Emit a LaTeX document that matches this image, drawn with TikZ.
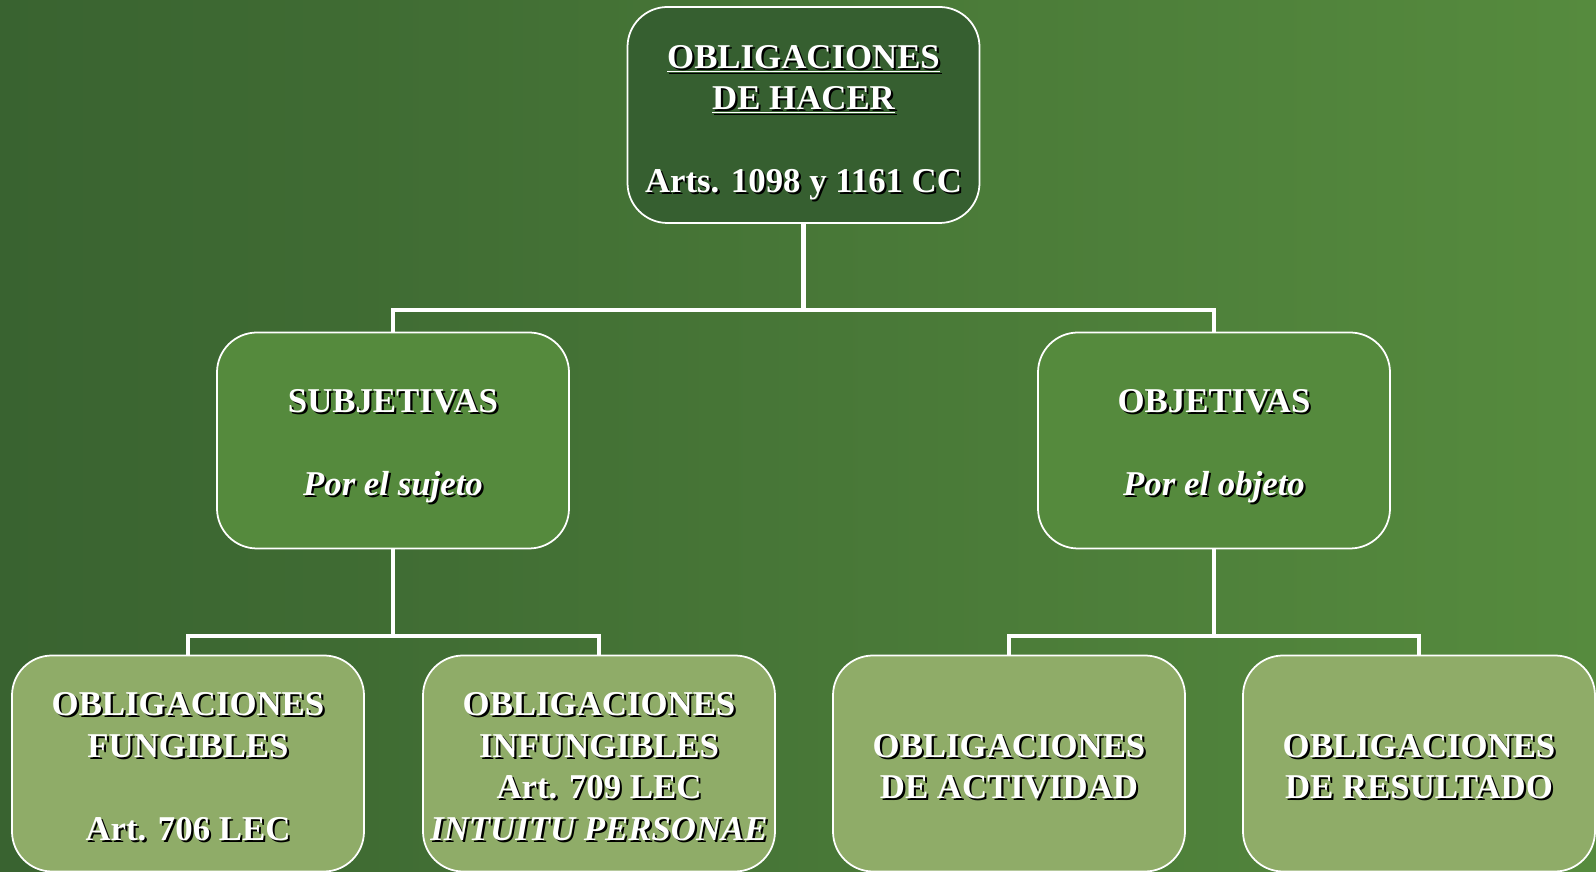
\documentclass[tikz,border=0pt]{standalone}
\usepackage{fontspec}
\setmainfont{Liberation Serif}
\usetikzlibrary{positioning}

\definecolor{bgleft}{HTML}{396330}
\definecolor{bgright}{HTML}{568B3E}
\definecolor{topfill}{HTML}{365F30}
\definecolor{midfill}{HTML}{558A3D}
\definecolor{leaffill}{HTML}{8FAC68}

% white text with a small black shadow
\newcommand{\shd}[1]{\leavevmode\rlap{\kern1.2pt\raisebox{-1.2pt}{\color{black}#1}}{#1}}
% taller first line, pushes the text block down a little
\newcommand{\lift}[1]{\rule{0pt}{#1}}

\tikzset{
  box/.style={rectangle,rounded corners=0.8cm,draw=white,line width=1pt,
    minimum width=7.04cm,minimum height=4.32cm,align=center,text=white,
    font=\fontsize{19.8}{23.6}\selectfont\bfseries},
  topbox/.style={box,fill=topfill},
  midbox/.style={box,fill=midfill},
  leafbox/.style={box,fill=leaffill},
  conn/.style={draw=white,line width=2.8pt}
}

\begin{document}
\begin{tikzpicture}
\useasboundingbox (0,0) rectangle (31.92,17.44);
\shade[left color=bgleft,right color=bgright] (0,0) rectangle (31.92,17.44);

\node[topbox] (hacer) at (16.07,15.14) {\lift{23pt}\shd{\underline{OBLIGACIONES}}\\\shd{\underline{DE HACER}}\\[23.6pt]\shd{Arts. 1098 y 1161 CC}};

\node[midbox] (subj) at (7.86,8.63) {\lift{21pt}\shd{SUBJETIVAS}\\[23.6pt]\shd{\itshape Por el sujeto}};
\node[midbox] (obj) at (24.28,8.63) {\lift{21pt}\shd{OBJETIVAS}\\[23.6pt]\shd{\itshape Por el objeto}};

\node[leafbox] (fung) at (3.76,2.17) {\lift{18pt}\shd{OBLIGACIONES}\\\shd{FUNGIBLES}\\[23.6pt]\shd{Art. 706 LEC}};
\node[leafbox] (infung) at (11.98,2.17) {\lift{18pt}\shd{OBLIGACIONES}\\\shd{INFUNGIBLES}\\\shd{Art. 709 LEC}\\\shd{\itshape INTUITU PERSONAE}};
\node[leafbox] (activ) at (20.18,2.17) {\lift{18pt}\shd{OBLIGACIONES}\\\shd{DE ACTIVIDAD}};
\node[leafbox] (result) at (28.38,2.17) {\lift{18pt}\shd{OBLIGACIONES}\\\shd{DE RESULTADO}};

\coordinate (barup) at (0,11.24);
\coordinate (barlow) at (0,4.72);

\draw[conn] (hacer.south) -- (hacer.south |- barup) -| (subj.north);
\draw[conn] (hacer.south |- barup) -| (obj.north);
\draw[conn] (subj.south) -- (subj.south |- barlow) -| (fung.north);
\draw[conn] (subj.south |- barlow) -| (infung.north);
\draw[conn] (obj.south) -- (obj.south |- barlow) -| (activ.north);
\draw[conn] (obj.south |- barlow) -| (result.north);

\end{tikzpicture}
\end{document}
